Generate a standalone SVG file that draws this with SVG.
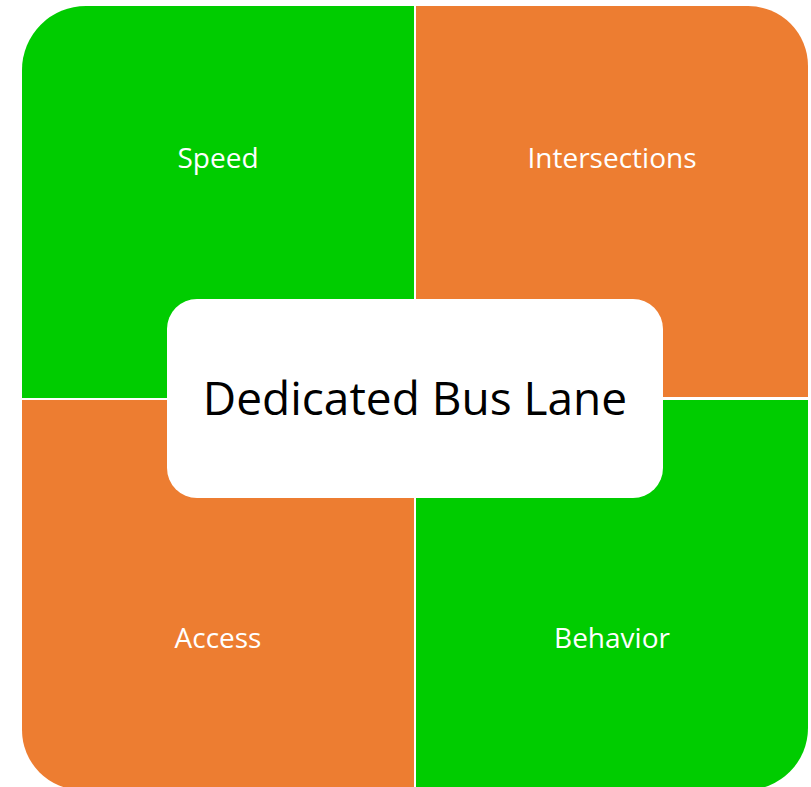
<svg xmlns="http://www.w3.org/2000/svg" width="811" height="787" viewBox="0 0 811 787">
<style>
.g{fill:#00CC00}
.o{fill:#ED7D31}
.lbl{font-family:"Open Sans","Liberation Sans",sans-serif;font-size:28px;fill:#FFFFFF;text-anchor:middle}
.main{font-family:"Open Sans","Liberation Sans",sans-serif;font-size:46px;fill:#000000;text-anchor:middle}
</style>
<rect width="811" height="787" fill="#FFFFFF"/>
<g id="speed">
<path class="g" d="M22,398 V70 A64,64 0 0 1 86,6 H414 V398 Z"/>
<text class="lbl" x="218" y="168">Speed</text>
</g>
<g id="intersections">
<path class="o" d="M416,6 H748 A60,60 0 0 1 808,66 V397 H416 Z"/>
<text class="lbl" x="612" y="168">Intersections</text>
</g>
<g id="access">
<path class="o" d="M22,400 H414 V790 H82 A60,60 0 0 1 22,730 Z"/>
<text class="lbl" x="218" y="648">Access</text>
</g>
<g id="behavior">
<path class="g" d="M416,400 H808 V728 A62,62 0 0 1 746,790 H416 Z"/>
<text class="lbl" x="612" y="648">Behavior</text>
</g>
<g id="center">
<rect x="167" y="299" width="496" height="199" rx="30" ry="30" fill="#FFFFFF"/>
<text class="main" x="415" y="415">Dedicated Bus Lane</text>
</g>
<g id="connectors"></g>
</svg>
